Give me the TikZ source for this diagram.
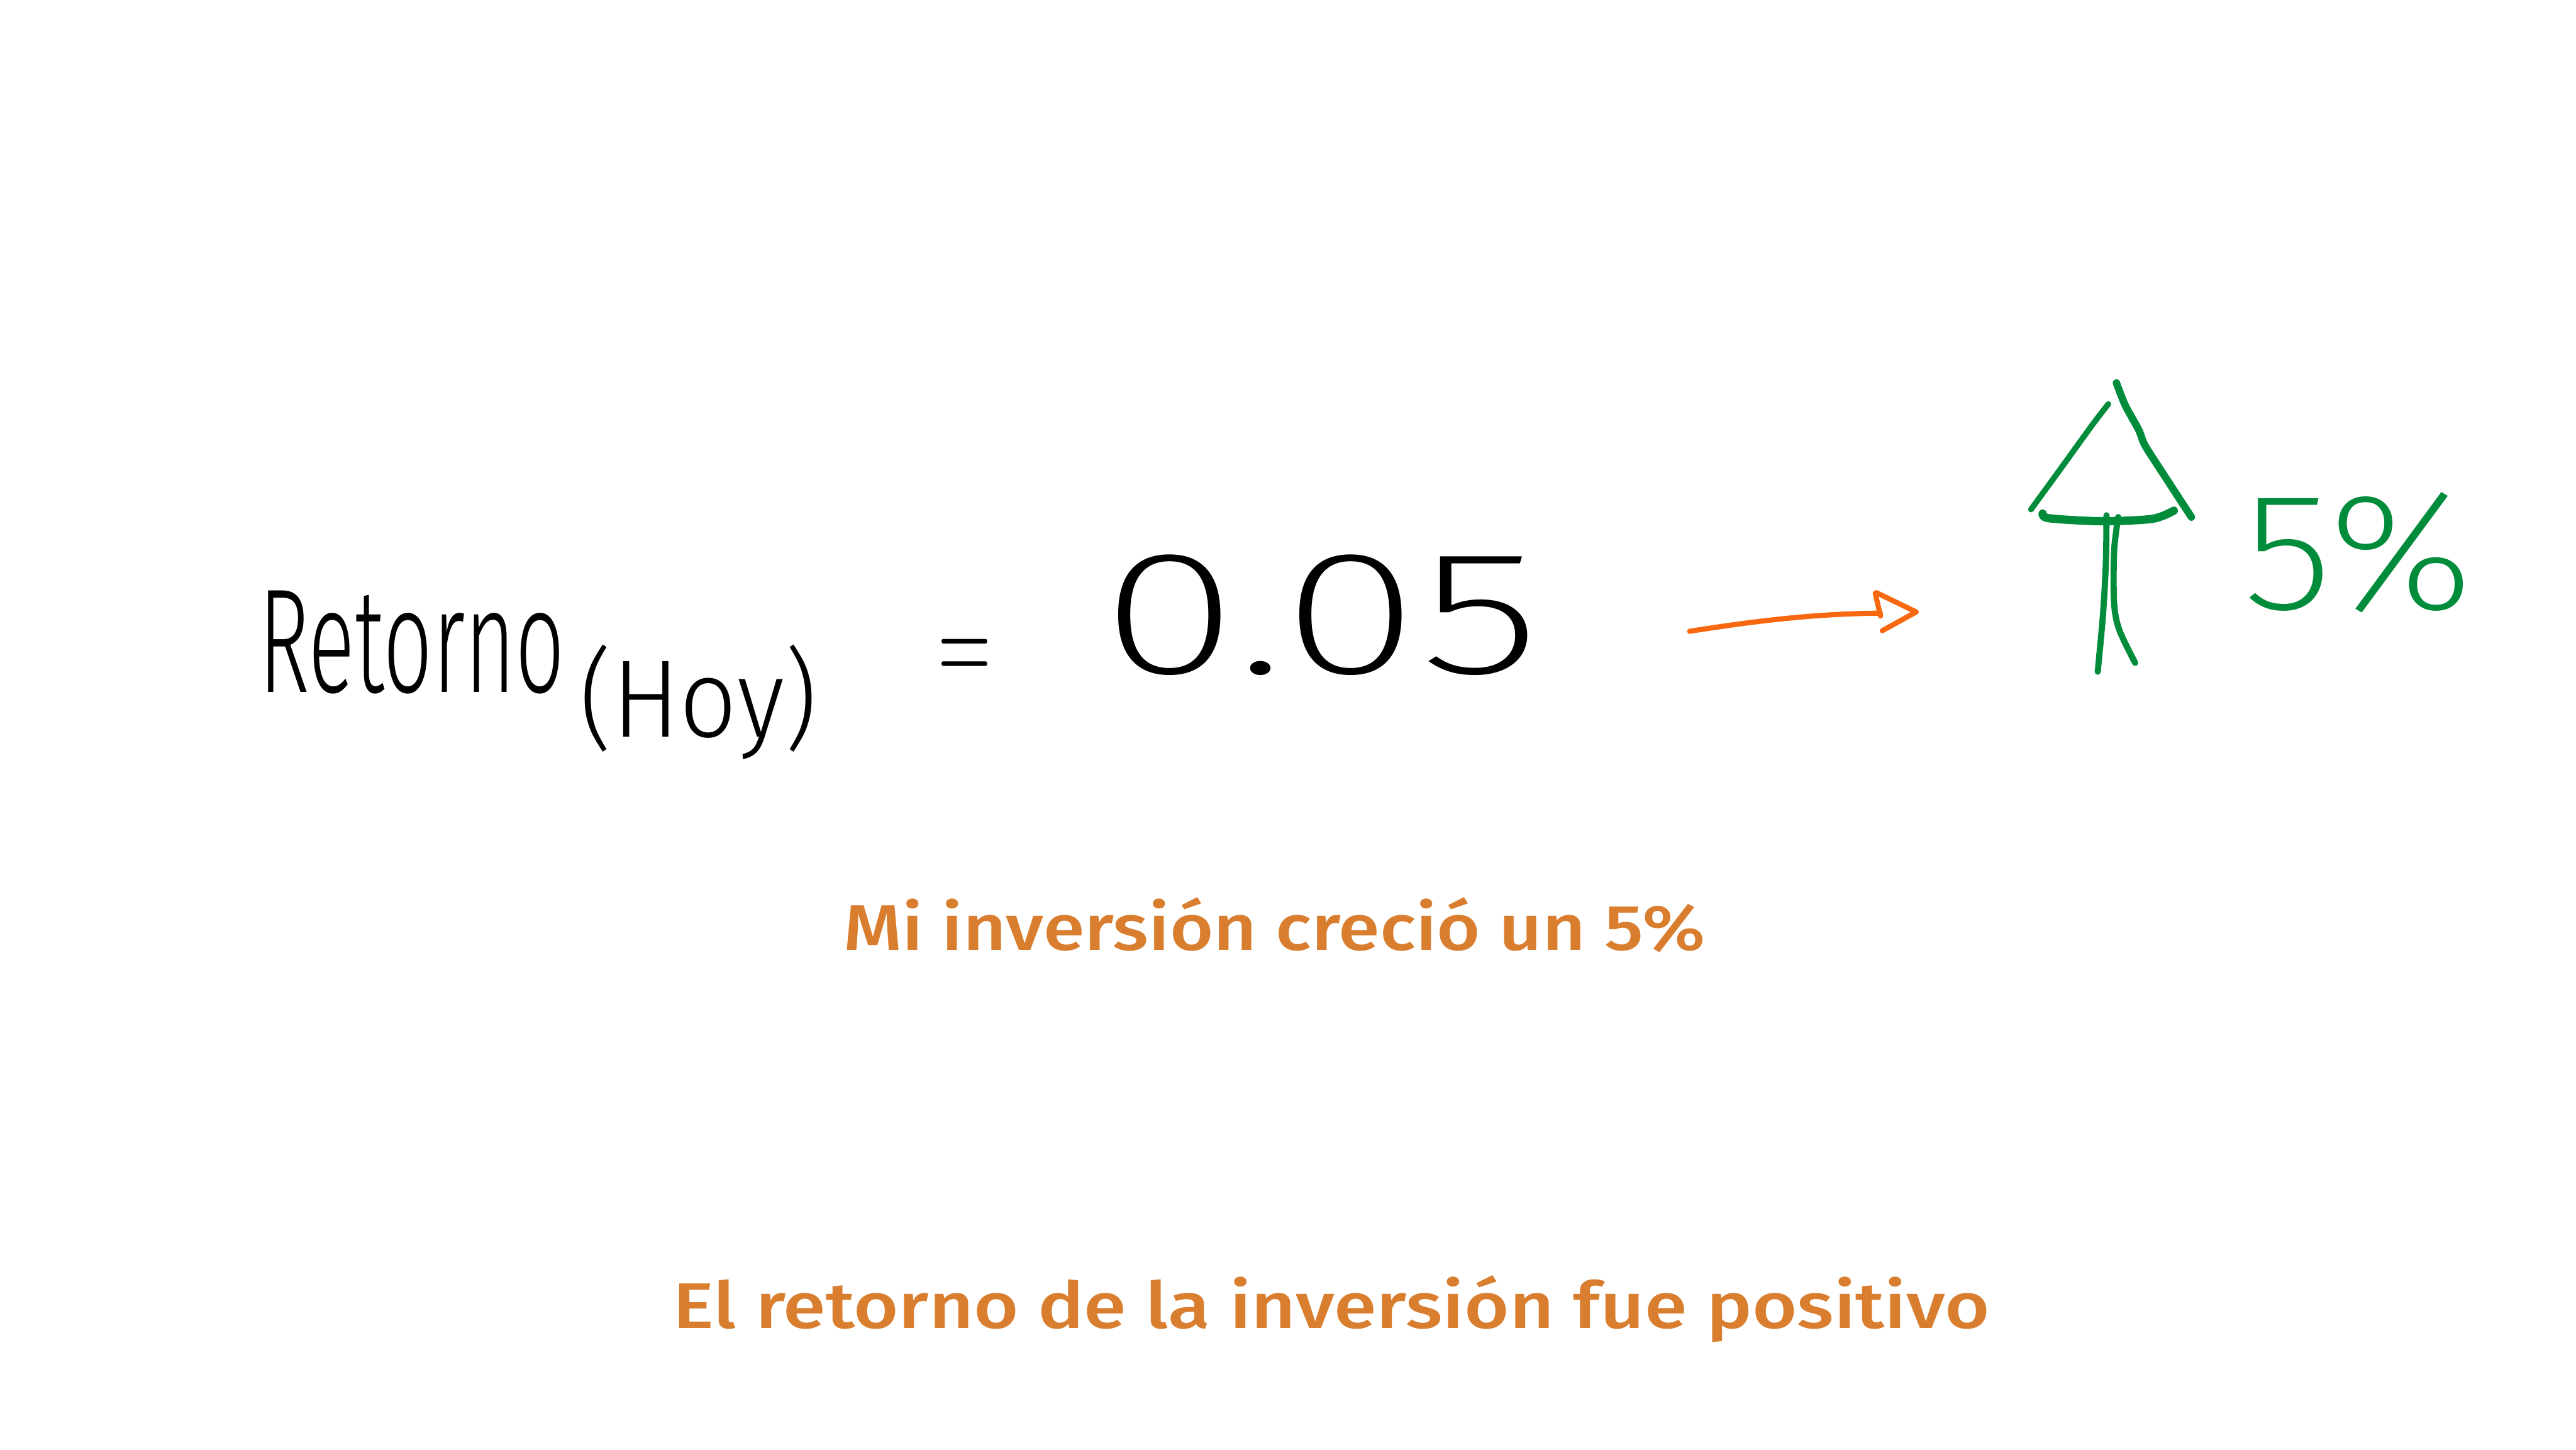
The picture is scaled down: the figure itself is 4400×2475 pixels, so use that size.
\documentclass[tikz,border=0pt]{standalone}
\usepackage{fontspec}
\usepackage{graphicx}
\IfFontExistsTF{Fira Sans Light}{\newfontfamily\handfont{Fira Sans Light}}{\newfontfamily\handfont{Fira Sans}}
\IfFontExistsTF{Fira Sans ExtraLight}{\newfontfamily\thinfont{Fira Sans ExtraLight}}{\newfontfamily\thinfont{Fira Sans Light}}
\IfFontExistsTF{Fira Sans Medium}{\newfontfamily\notefont{Fira Sans Medium}}{\newfontfamily\notefont{Fira Sans}}
\definecolor{txtorange}{HTML}{D97D2E}
\definecolor{arrorange}{HTML}{F76810}
\definecolor{hgreen}{HTML}{008C3A}
\newcommand{\fitw}[2]{\resizebox{#1}{\height}{#2}}
\tikzset{
  handtext/.style={inner sep=0pt, anchor=base west, text=black},
  greentext/.style={inner sep=0pt, anchor=base west, text=hgreen},
  notetext/.style={inner sep=0pt, anchor=base west, text=txtorange},
  greenstroke/.style={draw=hgreen, line cap=round, line join=round},
  orangestroke/.style={draw=arrorange, line width=2.5pt, line cap=round, line join=round}
}
\begin{document}
\begin{tikzpicture}[x=0.01cm,y=-0.01cm]
\path[use as bounding box, fill=white] (0,0) rectangle (4400,2475);

% formula
\node[handtext] (retorno) at (441,1182)
  {\fontsize{72pt}{80pt}\handfont\fitw{5.23cm}{Retorno}};
\node[handtext] (hoy) at (989,1258)
  {\fontsize{53.5pt}{60pt}\handfont\fitw{4.06cm}{(Hoy)}};
\node[handtext] (eq) at (1602,1164)
  {\scalebox{3.33}[5.6]{$=$}};
\node[handtext] (num) at (1880,1150)
  {\fontsize{85.4pt}{95pt}\thinfont\fitw{7.5cm}{0.05}};

% orange arrow
\coordinate (arrowtail) at (2886,1078);
\coordinate (arrowtip) at (3273,1045);
\draw[orangestroke] (arrowtail) .. controls (3000,1060) and (3100,1048) .. (3212,1047);
\draw[orangestroke] (3205,1012) -- (arrowtip) -- (3215,1077);
\draw[orangestroke] (3203,1013) -- (3212,1052);

% green up arrow
\draw[greenstroke, line width=2.8pt] plot[smooth] coordinates {(3601,690) (3572,728) (3520,800) (3469,870)};
\draw[greenstroke, line width=3.6pt] plot[smooth] coordinates {(3615,654) (3630,692) (3653,734) (3664,761) (3698,814) (3743,883)};
\draw[greenstroke, line width=4pt] plot[smooth] coordinates {(3489,877) (3500,885) (3589,890) (3676,886) (3713,872)};
\draw[greenstroke, line width=3pt] plot[smooth] coordinates {(3598,880) (3597,960) (3592,1050) (3583,1147)};
\draw[greenstroke, line width=3pt] plot[smooth] coordinates {(3618,883) (3611,941) (3611,1030) (3620,1076) (3647,1132)};

\node[greentext] (pct) at (3830,1040)
  {\fontsize{81pt}{90pt}\thinfont\fitw{3.94cm}{5\%}};

% notes
\node[notetext] (note1) at (1440,1623)
  {\fontsize{31.3pt}{36pt}\notefont\fitw{14.71cm}{Mi inversión creció un 5\%}};
\node[notetext] (note2) at (1149,2268)
  {\fontsize{31.3pt}{36pt}\notefont\fitw{22.48cm}{El retorno de la inversión fue positivo}};
\end{tikzpicture}
\end{document}
